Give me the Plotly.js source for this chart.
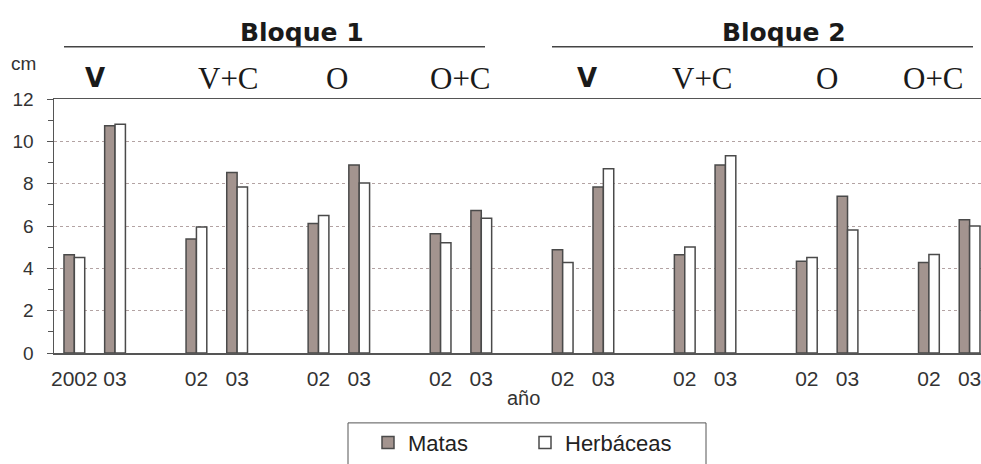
<!DOCTYPE html>
<html>
<head>
<meta charset="utf-8">
<script src="https://cdn.plot.ly/plotly-3.0.1.min.js"></script>
<style>html,body{margin:0;padding:0;background:#fff;}#chart{width:981px;height:464px;}</style>
</head>
<body>
<div id="chart"></div>
<script>
// ---- data ----
var bloques = ["Bloque 1", "Bloque 2"];
var tratamientos = ["V", "V+C", "O", "O+C"];
var anios = ["02", "03"];
var tickLabels = ["2002","03","02","03","02","03","02","03","02","03","02","03","02","03","02","03"];
var matas =     [4.64, 10.74, 5.38, 8.53, 6.12, 8.88, 5.63, 6.73, 4.88, 7.84, 4.64, 8.88, 4.34, 7.41, 4.28, 6.29];
var herbaceas = [4.51, 10.81, 5.95, 7.84, 6.50, 8.03, 5.21, 6.37, 4.28, 8.70, 5.01, 9.32, 4.51, 5.81, 4.65, 6.00];
var yTitle = "cm";
var xTitle = "año";

// ---- categories (with empty slot between treatments) ----
var cats = [], catOrder = [];
bloques.forEach(function(b, bi){
  tratamientos.forEach(function(t, ti){
    anios.forEach(function(a){ var id = b + "|" + t + "|" + a; cats.push(id); catOrder.push(id); });
    if (!(bi === bloques.length - 1 && ti === tratamientos.length - 1)) catOrder.push(b + "|" + t + "|gap");
  });
});

// ---- pixel helpers ----
var W = 981, H = 464, L = 54, R = 0, T = 99, B = 107;
function px(X){ return (X - L) / (W - L - R); }
function py(Y){ return (H - B - Y) / (H - T - B); }

var lineCol = "#4a4a4a";
var traces = [
  {type: "bar", name: "Matas", x: cats, y: matas,
   marker: {color: "#a3948f", line: {color: lineCol, width: 1.5}}},
  {type: "bar", name: "Herbáceas", x: cats, y: herbaceas,
   marker: {color: "#ffffff", line: {color: lineCol, width: 1.5}}}
];

var sansN = "Liberation Sans, Arial, sans-serif";
var annotations = [];
function ann(text, X, Y, font){
  annotations.push({text: text, xref: "paper", yref: "paper", x: px(X), y: py(Y),
    xanchor: "center", yanchor: "middle", showarrow: false, font: font});
}
var hdrFont = {family: "DejaVu Sans, sans-serif", size: 25, color: "#1a1a1a", weight: "bold"};
ann("<b>" + bloques[0] + "</b>", 302, 31, hdrFont);
ann("<b>" + bloques[1] + "</b>", 784, 31, hdrFont);
var trtX = [[95, 228, 337, 460], [587, 702, 827, 933]];
bloques.forEach(function(b, bi){
  tratamientos.forEach(function(t, ti){
    var f = (t === "V") ? {family: "DejaVu Sans, sans-serif", size: 26, color: "#1a1a1a", weight: "bold"}
                        : {family: "Liberation Serif, Times New Roman, serif", size: 31, color: "#1a1a1a"};
    ann(t === "V" ? "<b>V</b>" : t, trtX[bi][ti], 78, f);
  });
});
ann(yTitle, 23, 63, {family: sansN, size: 19, color: "#333"});
ann(xTitle, 523, 403, {family: sansN, size: 20, color: "#333"});

var shapes = [
  {type: "line", xref: "paper", yref: "paper", x0: px(64), x1: px(485), y0: py(46), y1: py(46), line: {color: "#444", width: 1.5}},
  {type: "line", xref: "paper", yref: "paper", x0: px(552), x1: px(973), y0: py(46), y1: py(46), line: {color: "#444", width: 1.5}},
  {type: "rect", xref: "paper", yref: "paper", x0: px(348), x1: px(706), y0: py(428), y1: py(490), line: {color: "#555", width: 1}, fillcolor: "rgba(0,0,0,0)"}
];

var layout = {
  width: W, height: H,
  margin: {l: L, r: R, t: T, b: B, pad: 0},
  paper_bgcolor: "#fff", plot_bgcolor: "#fff",
  barmode: "group", bargap: 0.49, bargroupgap: 0,
  showlegend: true,
  legend: {orientation: "h", x: px(525), y: py(448), xanchor: "center", yanchor: "middle",
           font: {family: sansN, size: 22, color: "#222"}, bgcolor: "rgba(0,0,0,0)", borderwidth: 0,
           entrywidth: 112, itemclick: false},
  xaxis: {type: "category", categoryorder: "array", categoryarray: catOrder,
          range: [-0.5, 22.28], tickvals: cats, ticktext: tickLabels, ticks: "",
          showline: true, linecolor: "#555", linewidth: 1.5, mirror: true, showgrid: false,
          tickfont: {family: sansN, size: 21, color: "#333"}, ticklabelstandoff: 6, zeroline: false},
  yaxis: {range: [0, 12], dtick: 2, tick0: 0, ticks: "outside", ticklen: 6, tickcolor: "#555",
          showline: true, linecolor: "#555", linewidth: 1.5,
          showgrid: true, gridcolor: "#b3a3a3", griddash: "dot", gridwidth: 1,
          minor: {dtick: 1, ticks: "outside", ticklen: 5, tickcolor: "#555", showgrid: false},
          tickfont: {family: sansN, size: 19, color: "#333"}, ticklabelstandoff: 9, zeroline: false},
  annotations: annotations,
  shapes: shapes
};

Plotly.newPlot("chart", traces, layout, {displayModeBar: false, staticPlot: true});
</script>
</body>
</html>
